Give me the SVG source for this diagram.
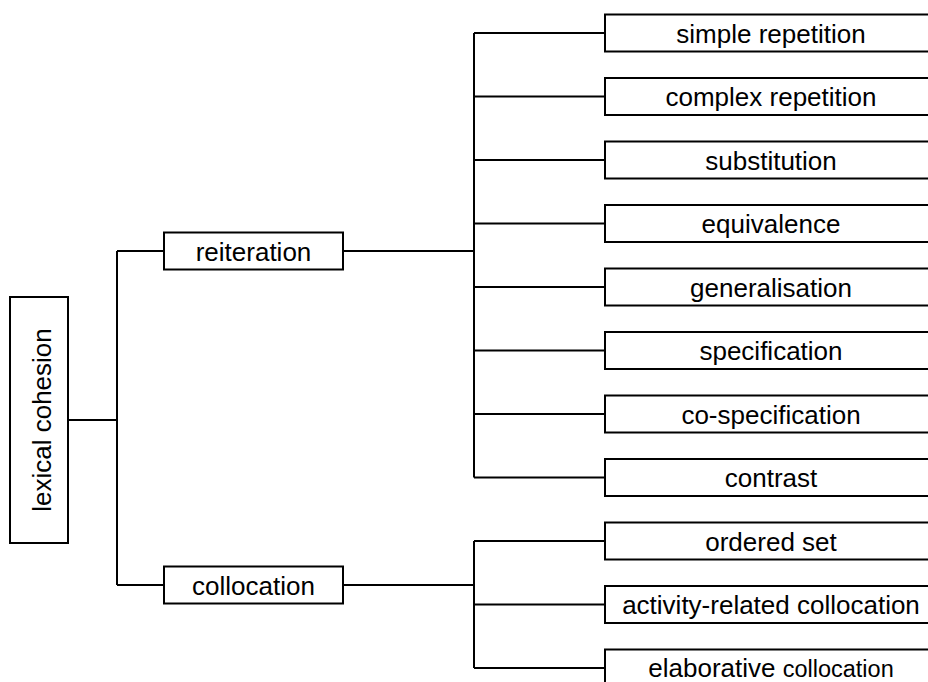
<svg xmlns="http://www.w3.org/2000/svg" width="928" height="682" viewBox="0 0 928 682">
<style>
.b{fill:#fff;stroke:#000;stroke-width:2}
.c path{stroke:#000;stroke-width:2;fill:none}
text{font-family:"Liberation Sans",Arial,sans-serif;font-size:26px;fill:#000;text-anchor:middle}
.s{font-size:23.5px}
</style>
<rect width="928" height="682" fill="#fff"/>
<g class="c" id="connectors">
<path d="M68 420H117M117 251V585M117 251H164M117 585H164"/>
<path d="M343 251H474M474 33V477.5"/>
<path d="M474 33H605M474 96.5H605M474 160H605M474 223.5H605M474 287H605M474 350.5H605M474 414H605M474 477.5H605"/>
<path d="M343 585H474M474 541V668M474 541H605M474 604.5H605M474 668H605"/>
</g>
<g id="lexical-cohesion"><rect class="b" x="10" y="297" width="58" height="246"/><text transform="translate(51,420) rotate(-90)" font-size="27">lexical cohesion</text></g>
<g id="reiteration"><rect class="b" x="164" y="232.5" width="179" height="37"/><text x="253.5" y="260.5">reiteration</text></g>
<g id="collocation"><rect class="b" x="164" y="566.5" width="179" height="37"/><text x="253.5" y="594.5">collocation</text></g>
<g id="simple-repetition"><rect class="b" x="605" y="14.5" width="340" height="37"/><text x="771" y="42.5">simple repetition</text></g>
<g id="complex-repetition"><rect class="b" x="605" y="78" width="340" height="37"/><text x="771" y="106">complex repetition</text></g>
<g id="substitution"><rect class="b" x="605" y="141.5" width="340" height="37"/><text x="771" y="169.5">substitution</text></g>
<g id="equivalence"><rect class="b" x="605" y="205" width="340" height="37"/><text x="771" y="233">equivalence</text></g>
<g id="generalisation"><rect class="b" x="605" y="268.5" width="340" height="37"/><text x="771" y="296.5">generalisation</text></g>
<g id="specification"><rect class="b" x="605" y="332" width="340" height="37"/><text x="771" y="360">specification</text></g>
<g id="co-specification"><rect class="b" x="605" y="395.5" width="340" height="37"/><text x="771" y="423.5">co-specification</text></g>
<g id="contrast"><rect class="b" x="605" y="459" width="340" height="37"/><text x="771" y="487">contrast</text></g>
<g id="ordered-set"><rect class="b" x="605" y="522.5" width="340" height="37"/><text x="771" y="550.5">ordered set</text></g>
<g id="activity-related-collocation"><rect class="b" x="605" y="586" width="340" height="37"/><text x="771" y="614">activity-related collocation</text></g>
<g id="elaborative-collocation"><rect class="b" x="605" y="649.5" width="340" height="37"/><text x="771" y="677">elaborative <tspan class="s">collocation</tspan></text></g>
</svg>
